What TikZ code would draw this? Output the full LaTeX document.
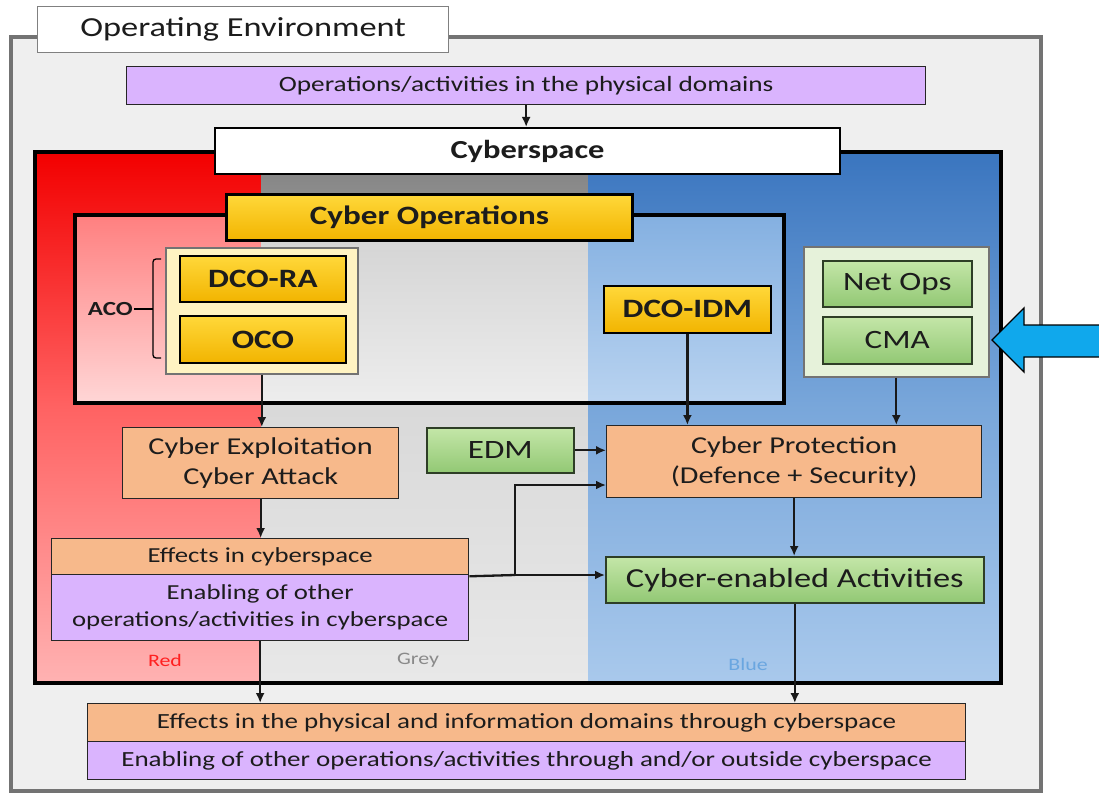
\documentclass[tikz,border=0pt]{standalone}
\usepackage{fontspec}
\setmainfont{Carlito}[FakeStretch=1.25]
\usetikzlibrary{arrows.meta}

\definecolor{txt}{HTML}{1C1C1C}
\definecolor{purp}{HTML}{DAB4FE}
\definecolor{orng}{HTML}{F7B98B}
\definecolor{grnT}{HTML}{C4E6A8}
\definecolor{grnB}{HTML}{92C874}
\definecolor{grnline}{HTML}{2E3E26}
\definecolor{ylT}{HTML}{FFD83A}
\definecolor{ylB}{HTML}{F2B400}
\definecolor{acofill}{HTML}{FFF3C2}
\definecolor{netfill}{HTML}{E6F2DA}
\definecolor{envfill}{HTML}{EFEFEF}
\definecolor{arrowblue}{HTML}{10A8EC}
\definecolor{redlbl}{HTML}{FF2020}
\definecolor{greylbl}{HTML}{8A8A8A}
\definecolor{bluelbl}{HTML}{6AA6E0}

\tikzset{
  box/.style={draw=black!85, line width=1.3pt, inner sep=0pt, anchor=north west, text=txt, align=center},
  whitebox/.style={box, fill=white},
  purplebox/.style={box, fill=purp, font=\fontsize{21.4}{27}\selectfont},
  orangebox/.style={box, fill=orng, font=\fontsize{24.2}{30}\selectfont},
  orangethin/.style={box, fill=orng, font=\fontsize{21.4}{27}\selectfont},
  greenbtn/.style={box, draw=grnline, line width=1.6pt, top color=grnT, bottom color=grnB, font=\fontsize{26.5}{30}\selectfont},
  yellowbtn/.style={box, draw=black, line width=1.8pt, top color=ylT, bottom color=ylB, font=\bfseries\fontsize{26.5}{30}\selectfont},
  groupbox/.style={box, draw=black!55, line width=1.6pt},
  conn/.style={line width=2.3pt, draw=black!90},
  arr/.style={conn, -{Latex[length=10pt,width=9pt]}},
  zonelbl/.style={font=\fontsize{17.5}{20}\selectfont, inner sep=0pt}
}

\begin{document}
\begin{tikzpicture}[x=1pt,y=-1pt]
\useasboundingbox (0,0) rectangle (1099,794);

% operating environment frame
\draw[draw=gray!90!black, line width=4pt, fill=envfill] (11,37) rectangle (1041,791);
\node[whitebox, draw=gray, line width=1.3pt, minimum width=411pt, minimum height=46pt,
      font=\fontsize{27.5}{30}\selectfont] (oe) at (37,6) {Operating Environment};

% physical domains
\node[purplebox, font=\fontsize{21.8}{27}\selectfont, minimum width=799pt, minimum height=38pt] (phys) at (126,66)
  {Operations/activities in the physical domains};

% cyberspace region: red / grey / blue zones (upper band, then lower band)
\shade[top color=red!95!black, bottom color=red!62!white] (35,152) rectangle (261,404);
\shade[top color=red!62!white, bottom color=red!30!white] (35,403) rectangle (261,683);
\shade[top color=gray, bottom color=gray!40] (261,152) rectangle (588,404);
\shade[top color=gray!30, bottom color=gray!18] (261,403) rectangle (588,683);
\shade[top color={rgb,255:red,58;green,117;blue,191}, bottom color={rgb,255:red,120;green,166;blue,218}] (588,152) rectangle (1001,404);
\shade[top color={rgb,255:red,120;green,166;blue,218}, bottom color={rgb,255:red,169;green,201;blue,236}] (588,403) rectangle (1001,683);
\draw[line width=4.5pt] (35,152) rectangle (1001,683);

% cyber operations frame
\shade[top color=red!50!white, bottom color=red!16!white] (75,215) rectangle (261,403);
\shade[top color=gray!36, bottom color=gray!14] (261,215) rectangle (588,403);
\shade[top color={rgb,255:red,132;green,176;blue,225}, bottom color={rgb,255:red,185;green,211;blue,240}] (588,215) rectangle (784,403);
\draw[line width=4pt] (75,215) rectangle (784,403);

\node[whitebox, draw=black, line width=2pt, minimum width=625pt, minimum height=46pt,
      font=\bfseries\fontsize{26}{30}\selectfont] (cs) at (214,127) {Cyberspace};
\node[yellowbtn, line width=3pt, minimum width=406pt, minimum height=46pt] (cyo) at (225,193) {Cyber Operations};

% ACO group
\node[groupbox, fill=acofill, minimum width=192pt, minimum height=126pt] (acog) at (165,247) {};
\node[yellowbtn, minimum width=166pt, minimum height=46pt] (dcora) at (179,255) {DCO-RA};
\node[yellowbtn, minimum width=166pt, minimum height=47pt] (oco) at (179,315) {OCO};
\draw[line width=1.3pt, rounded corners=3pt] (161,259) -- (153,259) -- (153,358) -- (161,358);
\coordinate (brk) at (153,309);
\node[font=\bfseries\fontsize{20}{24}\selectfont, text=txt, inner sep=1pt, anchor=east] (aco) at (134,309) {ACO};
\draw[line width=1.3pt] (aco.east) -- (brk);

% DCO-IDM
\node[yellowbtn, minimum width=167pt, minimum height=47pt] (dcoidm) at (603,285) {DCO-IDM};

% Net Ops / CMA group
\node[groupbox, fill=netfill, minimum width=185pt, minimum height=130pt] (netg) at (803,246) {};
\node[greenbtn, minimum width=149pt, minimum height=46pt] (netops) at (822,260) {Net Ops};
\node[greenbtn, minimum width=149pt, minimum height=47pt] (cma) at (822,316) {CMA};

% blue pointer
\filldraw[fill=arrowblue, draw=black, line width=1.3pt]
  (1110,325) -- (1024,325) -- (1024,308) -- (992,340) -- (1024,372) -- (1024,357) -- (1110,357);

% middle row
\node[orangebox, minimum width=276pt, minimum height=71pt] (cexp) at (122,427) {Cyber Exploitation\\Cyber Attack};
\node[greenbtn, minimum width=147pt, minimum height=45pt] (edm) at (426,427) {EDM};
\node[orangebox, minimum width=375pt, minimum height=72pt] (cprot) at (606,425) {Cyber Protection\\(Defence + Security)};

% effects in cyberspace
\node[orangethin, minimum width=417pt, minimum height=36pt] (efftop) at (51,538) {Effects in cyberspace};
\node[purplebox, minimum width=417pt, minimum height=66pt] (effbot) at (51,574) {Enabling of other\\operations/activities in cyberspace};

\node[greenbtn, minimum width=378pt, minimum height=46pt, font=\fontsize{27.5}{30}\selectfont] (cea) at (605,556) {Cyber-enabled Activities};

% zone labels
\node[zonelbl, text=redlbl] (lred) at (165,660) {Red};
\node[zonelbl, text=greylbl] (lgrey) at (418,660) {Grey};
\node[zonelbl, text=bluelbl] (lblue) at (748,664) {Blue};

% effects through cyberspace
\node[orangethin, font=\fontsize{21.6}{27}\selectfont, minimum width=878pt, minimum height=38pt] (fintop) at (87,703)
  {Effects in the physical and information domains through cyberspace};
\node[purplebox, font=\fontsize{21.6}{27}\selectfont, minimum width=878pt, minimum height=38pt] (finbot) at (87,741)
  {Enabling of other operations/activities through and/or outside cyberspace};

% connectors
\draw[arr] (phys.south) -- (phys.south |- cs.north);
\draw[arr] (acog.south) -- (acog.south |- cexp.north);
\draw[arr] (cexp.south) -- (cexp.south |- efftop.north);
\draw[arr] (dcoidm.south) -- (dcoidm.south |- cprot.north);
\draw[arr] (netg.south) -- (netg.south |- cprot.north);
\draw[arr] (edm.east) -- (edm.east -| cprot.west);
\draw[arr] (cprot.south) -- (cprot.south |- cea.north);
\coordinate (jn) at (515,575);
\coordinate (jup) at (515,485);
\draw[conn] (efftop.south east) ++(0,1) -- (jn);
\draw[arr] (jn) -- (jup) -- (jup -| cprot.west);
\draw[arr] (jn) -- (jn -| cea.west);
\draw[arr] (effbot.south) -- (effbot.south |- fintop.north);
\draw[arr] (cea.south) -- (cea.south |- fintop.north);
\end{tikzpicture}
\end{document}
